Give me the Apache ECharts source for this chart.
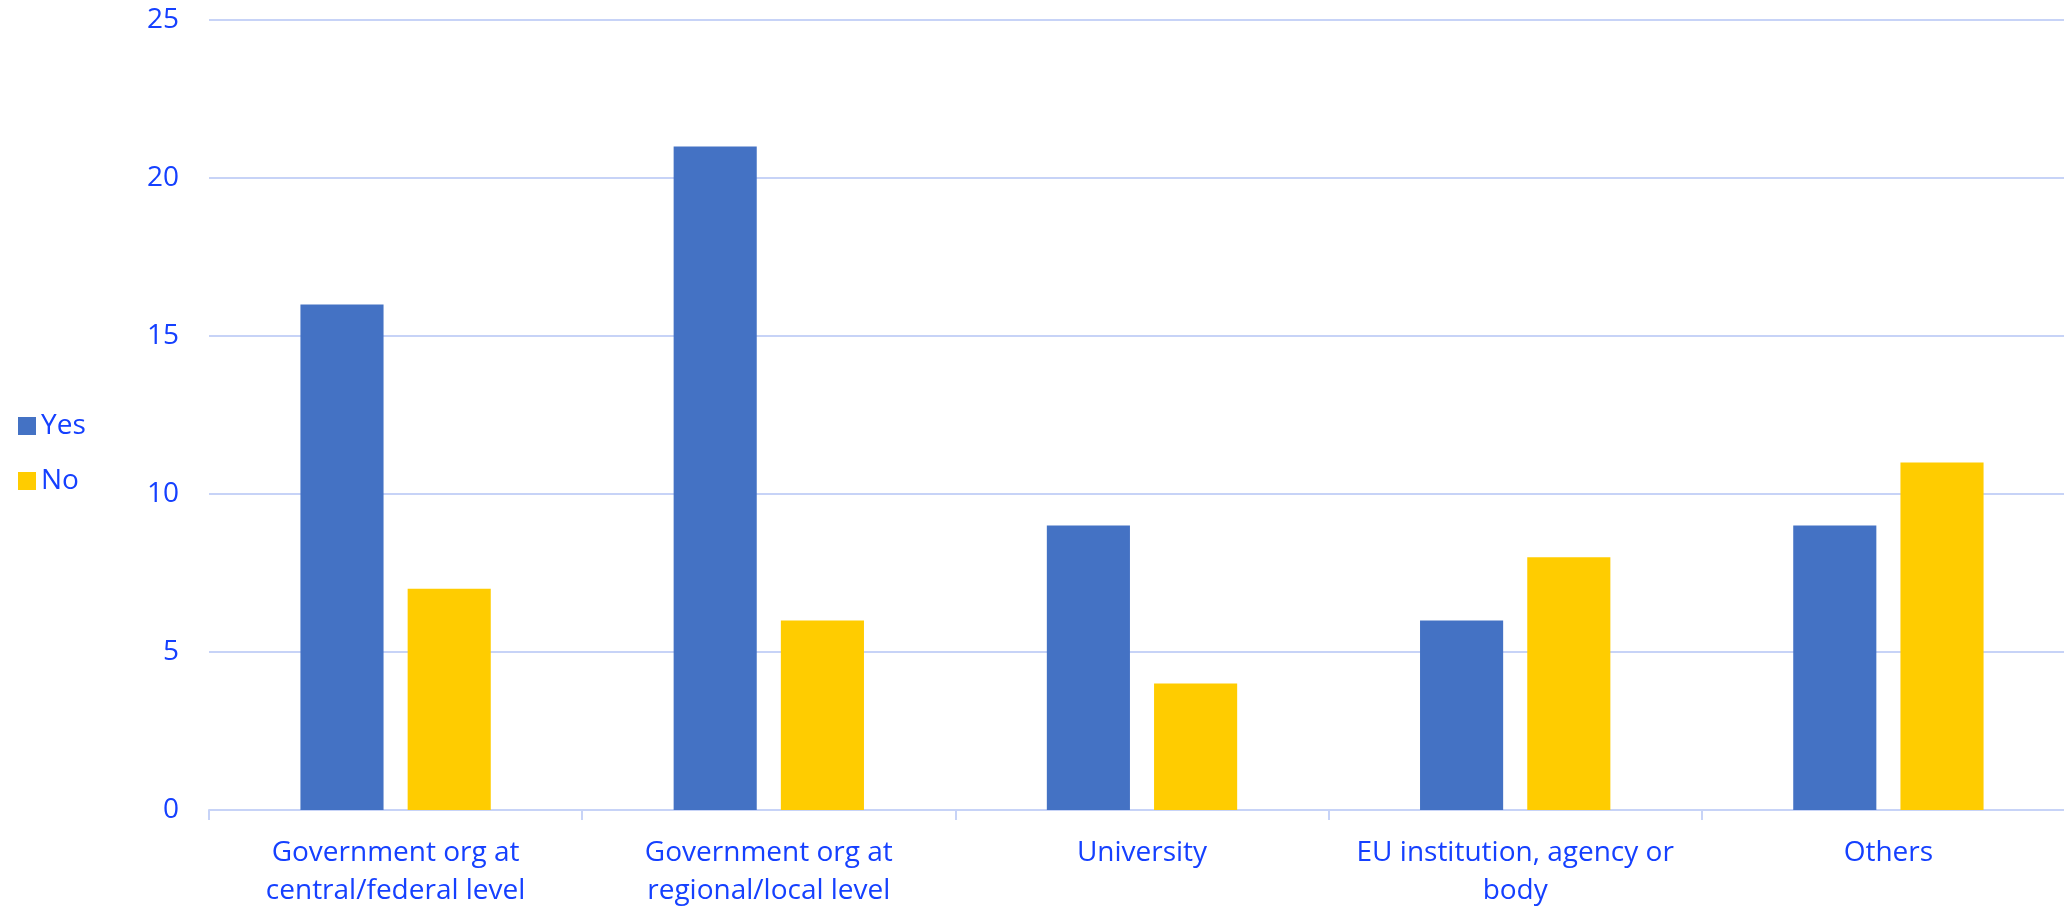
<!DOCTYPE html>
<html>
<head>
<meta charset="utf-8">
<script src="https://cdn.jsdelivr.net/npm/echarts@6/dist/echarts.min.js"></script>
<style>
html,body{margin:0;padding:0;background:#fff;}
#chart{width:2064px;height:906px;}
</style>
</head>
<body>
<div id="chart"></div>
<script>
const categories = [
  'Government org at\ncentral/federal level',
  'Government org at\nregional/local level',
  'University',
  'EU institution, agency or\nbody',
  'Others'
];
const yesValues = [16, 21, 9, 6, 9];
const noValues = [7, 6, 4, 8, 11];
const seriesNames = ['Yes', 'No'];

const textColor = '#1540FF';
const lineColor = '#C7D3F7';
const fontFamily = '"Open Sans", Lato, sans-serif';

const chart = echarts.init(document.getElementById('chart'));
chart.setOption({
  backgroundColor: '#ffffff',
  animation: false,
  textStyle: { fontFamily: fontFamily },
  legend: {
    orient: 'vertical',
    left: 13,
    top: 407,
    itemWidth: 18,
    itemHeight: 18,
    itemGap: 27,
    icon: 'rect',
    data: seriesNames,
    textStyle: { color: textColor, fontSize: 28, fontFamily: fontFamily, padding: [0, 0, 0, 0] }
  },
  grid: { left: 209, width: 1866, top: 20, bottom: 96, containLabel: false, outerBoundsMode: 'none' },
  xAxis: {
    type: 'category',
    data: categories,
    axisLine: { show: true, lineStyle: { color: lineColor, width: 2 } },
    axisTick: { show: true, length: 10, lineStyle: { color: lineColor, width: 2 } },
    axisLabel: {
      color: textColor, fontSize: 28, lineHeight: 38, margin: 24,
      fontFamily: fontFamily, interval: 0
    }
  },
  yAxis: {
    type: 'value',
    min: 0, max: 25, interval: 5,
    axisLine: { show: false },
    axisTick: { show: false },
    splitLine: { show: true, lineStyle: { color: lineColor, width: 2 } },
    axisLabel: { color: textColor, fontSize: 28, margin: 30, fontFamily: fontFamily }
  },
  series: [
    {
      name: seriesNames[0], type: 'bar', data: yesValues,
      itemStyle: { color: '#4472C4' },
      barGap: '29%', barCategoryGap: '49%'
    },
    {
      name: seriesNames[1], type: 'bar', data: noValues,
      itemStyle: { color: '#FFCC00' },
      barGap: '29%', barCategoryGap: '49%'
    }
  ]
});
</script>
</body>
</html>
